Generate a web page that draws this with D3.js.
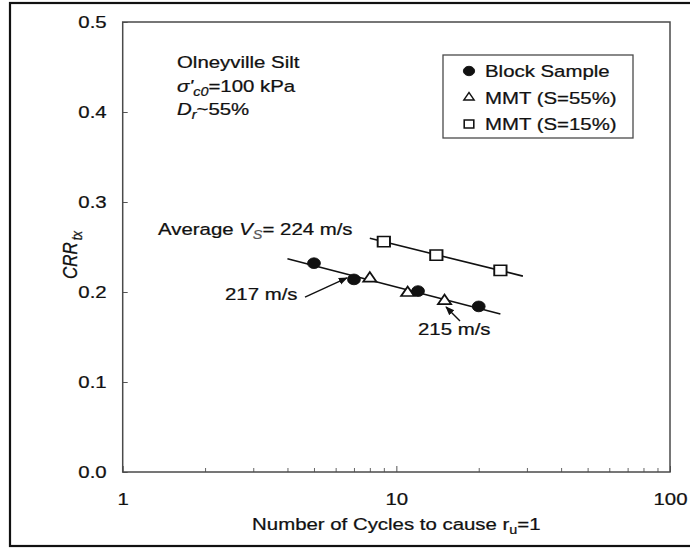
<!DOCTYPE html>
<html>
<head>
<meta charset="utf-8">
<script src="https://cdn.jsdelivr.net/npm/d3@7"></script>
<style>
  body { margin: 0; background: #fff; }
  svg { display: block; }
  text { font-family: "Liberation Sans", Arial, Helvetica, sans-serif; fill: #111; stroke: #111; stroke-width: 0.25px; }
</style>
</head>
<body>
<svg id="chart" width="690" height="548"></svg>
<script>
// ---- data ----
const blockCycles = [5, 7, 12, 20];
const blockCRR    = [0.232, 0.214, 0.201, 0.184];
const mmt55Cycles = [8, 11, 15];
const mmt55CRR    = [0.215, 0.199, 0.190];
const mmt15Cycles = [9, 14, 24];
const mmt15CRR    = [0.256, 0.241, 0.224];

const yTickValues  = [0.0, 0.1, 0.2, 0.3, 0.4, 0.5];
const xMajorTicks  = [1, 10, 100];
const xMinorTicks  = [2, 3, 4, 5, 6, 7, 8, 9, 20, 30, 40, 50, 60, 70, 80, 90];
const legendLabels = ["Block Sample", "MMT (S=55%)", "MMT (S=15%)"];

// cycle ranges covered by the two trend lines
const lowerTrendSpan = [4, 24];
const upperTrendSpan = [8, 29];

// ---- layout ----
const svg = d3.select("#chart");
const plot = { left: 122.7, right: 670, top: 22, bottom: 472 };
const SX = 1.2;           // horizontal glyph stretch of the figure typography
const FS = 17;            // base font size

const x = d3.scaleLog().domain([1, 100]).range([plot.left, plot.right]);
const y = d3.scaleLinear().domain([0, 0.5]).range([plot.bottom, plot.top]);

function stretch(sel, px, py) {
  return sel.attr("transform", `translate(${px},${py}) scale(${SX},1)`);
}

// outer figure border
svg.append("rect")
  .attr("x", 10).attr("y", 3).attr("width", 700).attr("height", 543)
  .attr("fill", "none").attr("stroke", "#111").attr("stroke-width", 2.2);

// ---- axes ----
const yAxis = svg.append("g")
  .attr("transform", `translate(${plot.left},0)`)
  .call(d3.axisLeft(y).tickValues(yTickValues).tickSize(-5).tickPadding(16)
        .tickFormat(d3.format(".1f")));
yAxis.select(".domain").remove();
yAxis.selectAll("line").attr("stroke", "#555");
yAxis.selectAll("text")
  .attr("font-size", FS).attr("font-family", null).attr("fill", null)
  .attr("x", -16 / SX).attr("transform", `scale(${SX},1)`);

const xAxis = svg.append("g")
  .attr("transform", `translate(0,${plot.bottom})`)
  .call(d3.axisBottom(x).tickValues(xMajorTicks).tickSize(-6).tickPadding(21)
        .tickFormat(d3.format("d")));
xAxis.select(".domain").remove();
xAxis.selectAll("line").attr("stroke", "#555");
xAxis.selectAll("text")
  .attr("font-size", FS).attr("font-family", null).attr("fill", null)
  .attr("transform", `scale(${SX},1)`);

const xMinor = svg.append("g")
  .attr("transform", `translate(0,${plot.bottom})`)
  .call(d3.axisBottom(x).tickValues(xMinorTicks).tickSize(-4).tickFormat(""));
xMinor.select(".domain").remove();
xMinor.selectAll("line").attr("stroke", "#666");

// plot frame
svg.append("rect")
  .attr("x", plot.left).attr("y", plot.top)
  .attr("width", plot.right - plot.left).attr("height", plot.bottom - plot.top)
  .attr("fill", "none").attr("stroke", "#4a4a4a").attr("stroke-width", 1.5);

// axis titles
const xTitle = stretch(svg.append("text"), (plot.left + plot.right) / 2, 530)
  .attr("text-anchor", "middle").attr("font-size", FS);
xTitle.append("tspan").text("Number of Cycles to cause r");
xTitle.append("tspan").attr("dy", 4).attr("font-size", 12).text("u");
xTitle.append("tspan").attr("dy", -4).text("=1");

const yTitle = svg.append("text")
  .attr("transform", `translate(77,${(plot.top + plot.bottom) / 2 + 8}) rotate(-90) scale(1,${SX})`)
  .attr("text-anchor", "middle").attr("font-size", FS).attr("font-style", "italic");
yTitle.append("tspan").text("CRR");
yTitle.append("tspan").attr("dx", 2).attr("dy", 4).attr("font-size", 12).text("tx");

// ---- trend lines (least squares in log10 N) ----
function fit(cycles, values) {
  const xs = cycles.map(Math.log10);
  const mx = d3.mean(xs), my = d3.mean(values);
  const sxy = d3.sum(xs, (v, i) => (v - mx) * (values[i] - my));
  const sxx = d3.sum(xs, v => (v - mx) * (v - mx));
  const b = sxy / sxx;
  return n => my + b * (Math.log10(n) - mx);
}
const lowerFit = fit(blockCycles.concat(mmt55Cycles), blockCRR.concat(mmt55CRR));
const upperFit = fit(mmt15Cycles, mmt15CRR);
const line = d3.line().x(d => x(d[0])).y(d => y(d[1]));

svg.append("path")
  .attr("d", line(lowerTrendSpan.map(n => [n, lowerFit(n)])))
  .attr("fill", "none").attr("stroke", "#111").attr("stroke-width", 1.6);
svg.append("path")
  .attr("d", line(upperTrendSpan.map(n => [n, upperFit(n)])))
  .attr("fill", "none").attr("stroke", "#111").attr("stroke-width", 1.6);

// ---- markers ----
const circleSym   = d3.symbol(d3.symbolCircle, 90);
const triangleSym = d3.symbol(d3.symbolTriangle, 52);
const squareSym   = d3.symbol(d3.symbolSquare, 105);

function drawMarks(cycles, values, sym, filled) {
  svg.append("g").selectAll("path")
    .data(cycles.map((c, i) => [c, values[i]]))
    .join("path")
    .attr("d", sym)
    .attr("transform", d => `translate(${x(d[0])},${y(d[1])}) scale(${SX},1)`)
    .attr("fill", filled ? "#111" : "#fff")
    .attr("stroke", "#111")
    .attr("stroke-width", filled ? 0.8 : 1.6);
}
drawMarks(mmt15Cycles, mmt15CRR, squareSym, false);
drawMarks(mmt55Cycles, mmt55CRR, triangleSym, false);
drawMarks(blockCycles, blockCRR, circleSym, true);

// ---- annotations ----
svg.append("defs").append("marker")
  .attr("id", "head").attr("viewBox", "0 0 10 10")
  .attr("refX", 9).attr("refY", 5)
  .attr("markerWidth", 9).attr("markerHeight", 9)
  .attr("markerUnits", "userSpaceOnUse")
  .attr("orient", "auto")
  .append("path").attr("d", "M0,1 L10,5 L0,9 Z").attr("fill", "#111");

const vsLabel = stretch(svg.append("text"), 158, 235).attr("font-size", FS);
vsLabel.append("tspan").text("Average ");
vsLabel.append("tspan").attr("font-style", "italic").text("V");
vsLabel.append("tspan").attr("font-style", "italic").attr("font-size", 12)
  .attr("dy", 4).attr("fill", "#555").attr("stroke", "#555").text("S");
vsLabel.append("tspan").attr("dy", -4).text("= 224 m/s");

stretch(svg.append("text"), 225, 300).attr("font-size", FS).text("217 m/s");
svg.append("line")
  .attr("x1", 305).attr("y1", y(0.1944))
  .attr("x2", x(blockCycles[1]) - 7).attr("y2", y(blockCRR[1]) - 1.5)
  .attr("stroke", "#111").attr("stroke-width", 1.4).attr("marker-end", "url(#head)");

stretch(svg.append("text"), 418, 335).attr("font-size", FS).text("215 m/s");
svg.append("line")
  .attr("x1", 460).attr("y1", 321)
  .attr("x2", x(mmt55Cycles[2]) + 1.5).attr("y2", y(mmt55CRR[2]) + 6)
  .attr("stroke", "#111").attr("stroke-width", 1.4).attr("marker-end", "url(#head)");

// soil description block
const info = svg.append("g");
stretch(info.append("text"), 177, 68).attr("font-size", FS).text("Olneyville Silt");
const sig = stretch(info.append("text"), 177, 92).attr("font-size", FS);
sig.append("tspan").attr("font-style", "italic").text("σ'");
sig.append("tspan").attr("font-style", "italic").attr("font-size", 12).attr("dy", 4).text("c0");
sig.append("tspan").attr("dy", -4).text("=100 kPa");
const dr = stretch(info.append("text"), 177, 115).attr("font-size", FS);
dr.append("tspan").attr("font-style", "italic").text("D");
dr.append("tspan").attr("font-style", "italic").attr("font-size", 12).attr("dy", 4).text("r");
dr.append("tspan").attr("dy", -4).text("~55%");

// ---- legend ----
const legend = svg.append("g");
legend.append("rect")
  .attr("x", 443).attr("y", 55).attr("width", 190).attr("height", 83)
  .attr("fill", "#fff").attr("stroke", "#4a4a4a").attr("stroke-width", 1.3);
const legendSyms = [
  { sym: d3.symbol(d3.symbolCircle, 70), filled: true },
  { sym: d3.symbol(d3.symbolTriangle, 32), filled: false },
  { sym: d3.symbol(d3.symbolSquare, 64), filled: false }
];
const rowY = d3.scalePoint().domain(legendLabels).range([77, 130]);
legendLabels.forEach((lab, i) => {
  const yy = rowY(lab);
  legend.append("path")
    .attr("d", legendSyms[i].sym)
    .attr("transform", `translate(469,${yy - 6}) scale(${SX},1)`)
    .attr("fill", legendSyms[i].filled ? "#111" : "#fff")
    .attr("stroke", "#111").attr("stroke-width", legendSyms[i].filled ? 0.8 : 1.3);
  stretch(legend.append("text"), 485, yy).attr("font-size", FS).text(lab);
});
</script>
</body>
</html>
